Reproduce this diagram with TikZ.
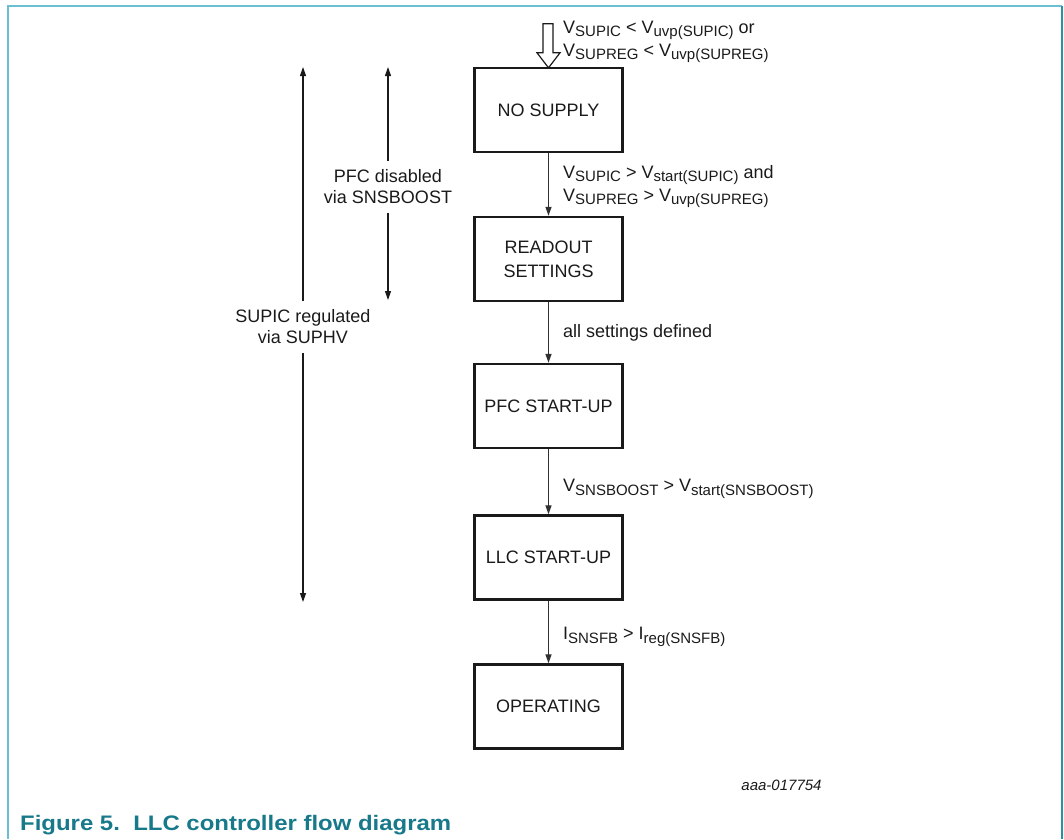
\documentclass[tikz,border=0pt]{standalone}
\usepackage{fontspec}
\setmainfont{Liberation Sans}
\usetikzlibrary{arrows.meta}
\definecolor{capcol}{HTML}{17798A}
\definecolor{framecol}{HTML}{6CBFD2}
\definecolor{framecolR}{HTML}{2B8FA6}
\definecolor{inkcol}{HTML}{1A1A1A}
\newcommand\lsub[1]{\raisebox{-3.5pt}{\fontsize{15}{15}\selectfont #1}}
\begin{document}
\begin{tikzpicture}[x=1pt,y=-1pt,
  stbox/.style={draw=inkcol, line width=2.4pt, minimum width=148pt, minimum height=84pt,
    align=center, font=\fontsize{18}{24}\selectfont, inner sep=0pt, text=inkcol},
  flow/.style={line width=1.3pt, draw=inkcol!90, -{Triangle[length=9pt,width=6pt]}},
  cond/.style={anchor=west, align=left, font=\fontsize{18}{23}\selectfont, inner sep=0pt, text=inkcol},
  span/.style={line width=1.1pt, draw=inkcol, -{Triangle[length=9pt,width=6pt]}},
  spanlab/.style={align=center, font=\fontsize{18}{21}\selectfont, inner xsep=2pt, inner ysep=9pt, text=inkcol}]
\useasboundingbox (0,0) rectangle (1064,839);
% frame
\draw[framecol, line width=1.5pt] (8,839) -- (8,6) -- (1062,6);
\draw[framecolR, line width=1.5pt] (1062,6) -- (1062,839);

% states
\node[stbox] (nosup) at (548.5,110) {NO SUPPLY};
\node[stbox] (readout) at (548.5,259) {READOUT\\SETTINGS};
\node[stbox] (pfc) at (548.5,406) {PFC START-UP};
\node[stbox] (llc) at (548.5,557.5) {LLC START-UP};
\node[stbox] (oper) at (548.5,706.5) {OPERATING};

% entry hollow arrow
\draw[line width=1.2pt, draw=inkcol, fill=white] ([yshift=-1pt]nosup.north) -- ++(-11.5,-15) -- ++(6,0) -- ++(0,-29)
  -- ++(10,0) -- ++(0,29) -- ++(7,0) -- cycle;
\node[cond] (entrylab) at (563,42) {V\lsub{SUPIC} < V\lsub{uvp(SUPIC)} or\\V\lsub{SUPREG} < V\lsub{uvp(SUPREG)}};

% transitions
\draw[flow] (nosup) -- (readout)
  node[cond, midway, xshift=14pt, yshift=-2pt] (c1) {V\lsub{SUPIC} > V\lsub{start(SUPIC)} and\\V\lsub{SUPREG} > V\lsub{uvp(SUPREG)}};
\draw[flow] (readout) -- (pfc)
  node[cond, midway, xshift=14pt] (c2) {all settings defined};
\draw[flow] (pfc) -- (llc)
  node[cond, midway, xshift=14pt, yshift=-7pt] (c3) {V\lsub{SNSBOOST} > V\lsub{start(SNSBOOST)}};
\draw[flow] (llc) -- (oper)
  node[cond, midway, xshift=14pt, yshift=-5pt] (c4) {I\lsub{SNSFB} > I\lsub{reg(SNSFB)}};

% spans on the left
\coordinate (t1) at (303,67);
\coordinate (b1) at (303,602);
\node[spanlab] (suplab) at (303,327) {SUPIC regulated\\via SUPHV};
\draw[span] (suplab.north) -- (t1);
\draw[span] (suplab.south) -- (b1);

\coordinate (t2) at (388,67);
\coordinate (b2) at (388,300);
\node[spanlab] (pfclab) at (388,187) {PFC disabled\\via SNSBOOST};
\draw[span] (pfclab.north) -- (t2);
\draw[span] (pfclab.south) -- (b2);

% id and caption
\node[anchor=base, inner sep=0pt, font=\fontsize{15}{15}\selectfont\itshape, text=inkcol] (figid) at (781.5,790) {aaa-017754};
\node[anchor=base west, inner sep=0pt, font=\fontsize{21}{21}\selectfont\bfseries, text=capcol] (caption) at (20,830)
  {\scalebox{1.14}[1]{Figure 5.\ \ LLC controller flow diagram}};
\end{tikzpicture}
\end{document}
